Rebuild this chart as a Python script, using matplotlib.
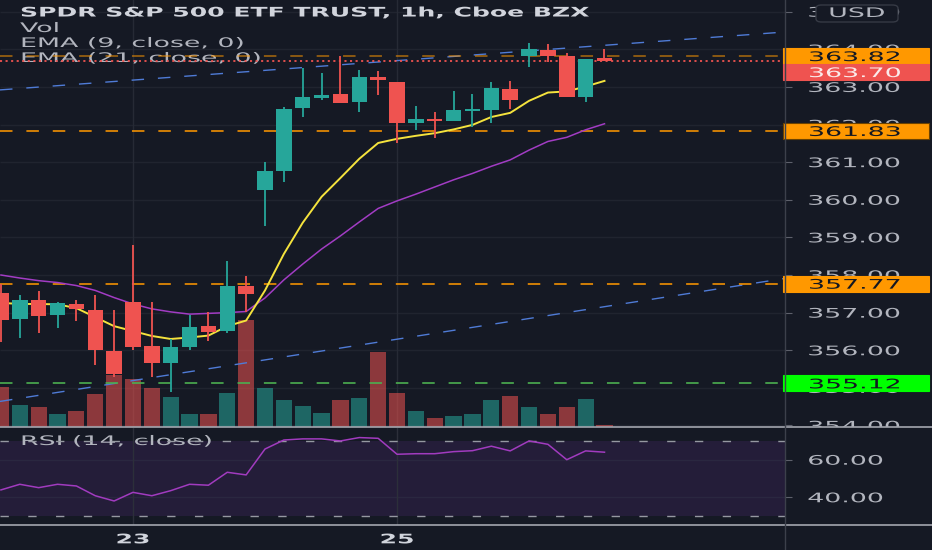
import matplotlib
matplotlib.use("Agg")
import matplotlib.pyplot as plt
import matplotlib.transforms as mtransforms
from matplotlib.patches import Rectangle, FancyBboxPatch
from matplotlib.lines import Line2D
from matplotlib.patheffects import AbstractPathEffect
import numpy as np

# SPY 1h bars, 20 Nov -> 27 Nov
opens = [357.51, 356.82, 357.34, 356.95, 357.23, 357.07, 355.99,
         357.29, 356.11, 355.67, 356.09, 356.64, 356.52, 357.72,
         360.26, 360.77, 362.43, 362.70, 362.81, 362.59, 363.26,
         363.14, 362.05, 362.12, 362.10, 362.37, 362.39, 362.94,
         363.83, 363.99, 363.82, 362.74, 363.78]
highs = [357.75, 357.48, 357.58, 357.27, 357.34, 357.46, 357.07,
         358.80, 357.29, 356.29, 356.94, 357.02, 358.38, 357.97,
         361.01, 362.46, 363.50, 363.38, 363.81, 363.45, 363.43,
         363.14, 362.49, 362.34, 362.90, 362.81, 363.14, 363.17,
         364.18, 364.14, 363.90, 363.74, 364.00]
lows = [356.22, 356.32, 356.47, 356.58, 356.78, 355.61, 355.30,
        356.02, 355.30, 354.90, 356.02, 356.25, 356.47, 357.02,
        359.30, 360.48, 362.19, 362.64, 362.57, 362.34, 362.78,
        361.50, 361.86, 361.64, 362.10, 361.94, 362.05, 362.41,
        363.52, 363.67, 362.72, 362.59, 363.69]
closes = [356.80, 357.34, 356.92, 357.26, 357.09, 356.01, 355.37,
          356.09, 355.67, 356.09, 356.63, 356.49, 357.72, 357.49,
          360.77, 362.41, 362.73, 362.79, 362.57, 363.26, 363.19,
          362.03, 362.14, 362.10, 362.39, 362.41, 362.96, 362.64,
          364.00, 363.81, 362.74, 363.74, 363.70]
volume = [8.0, 4.4, 4.0, 2.6, 3.2, 6.6, 10.4,
          9.6, 7.8, 6.0, 2.6, 2.6, 6.8, 21.4,
          7.8, 5.4, 4.2, 2.8, 5.4, 5.8, 15.0,
          6.8, 3.2, 1.8, 2.2, 2.6, 5.4, 6.2,
          4.0, 2.6, 4.0, 5.6, 0.4]
ema9 = [357.26, 357.23, 357.23, 357.22, 357.12, 356.88, 356.64,
        356.51, 356.38, 356.30, 356.34, 356.39, 356.64, 356.79,
        357.59, 358.56, 359.39, 360.08, 360.58, 361.09, 361.51,
        361.62, 361.70, 361.77, 361.87, 361.99, 362.20, 362.31,
        362.63, 362.85, 362.88, 363.01, 363.16]
ema21 = [358.00, 357.92, 357.85, 357.80, 357.72, 357.59, 357.40,
         357.23, 357.10, 357.02, 356.96, 356.98, 357.00, 357.03,
         357.39, 357.87, 358.29, 358.69, 359.04, 359.41, 359.77,
         359.97, 360.15, 360.34, 360.53, 360.70, 360.89, 361.06,
         361.32, 361.55, 361.66, 361.86, 362.02]
rsi = [43.9, 46.9, 45.1, 46.9, 46.0, 40.8, 38.0,
       42.6, 40.8, 43.5, 46.9, 46.4, 53.3, 51.9,
       65.7, 70.5, 71.1, 71.1, 70.0, 71.8, 71.4,
       62.9, 63.2, 63.2, 64.3, 64.8, 67.2, 64.7,
       70.0, 68.2, 60.0, 64.7, 64.0]

date_ticks = [7, 21]
date_labels = ["23", "25"]
price_ticks = list(range(354, 366))
rsi_ticks = [40, 60]

# drawn levels and trend lines
level_top = 363.82
level_mid = 361.83
level_low = 357.77
level_green = 355.12
last_price = 363.70
trend_upper = [(-0.05, 362.92), (41.57, 364.46)]
trend_lower = [(-0.05, 354.64), (41.57, 357.91)]

W, H = 932, 550
BG = '#151924'
TEAL = '#26a69a'
RED = '#ef5350'
ORANGE = '#ff9800'
TXT = '#b2b5be'
FS = 9.5
PRICE_LIM = (353.96, 365.31)
RSI_LIM = (25.2, 76.9)
XLIM = (-0.05, 41.57)

plt.rcParams['lines.scale_dashes'] = False
plt.rcParams['font.family'] = ['DejaVu Sans']


class Wide(AbstractPathEffect):
    """stretch glyphs sideways, the screenshot's font is very wide"""
    def __init__(self, sx=2.03, anchor='left'):
        super().__init__()
        self.sx = sx
        self.anchor = anchor

    def draw_path(self, renderer, gc, tpath, affine, rgbFace=None):
        cx = 0
        if self.anchor == 'center':
            ext = tpath.get_extents()
            cx = (ext.x0 + ext.x1) / 2
        st = mtransforms.Affine2D().translate(-cx, 0).scale(self.sx, 1).translate(cx, 0)
        renderer.draw_path(gc, tpath, st + affine, rgbFace)


WIDE = [Wide()]


def fx(px):
    return px / W


def fy(py):
    return 1 - py / H


fig = plt.figure(figsize=(W / 100, H / 100), dpi=100, facecolor=BG)

main_rect = [0, fy(427), fx(785), fy(0) - fy(427)]
rsi_rect = [0, fy(525), fx(785), fy(428) - fy(525)]
ax_vol = fig.add_axes(main_rect, zorder=0)
ax = fig.add_axes(main_rect, zorder=0.5)
ax_rsi = fig.add_axes(rsi_rect, zorder=2)
ax_vol.set_facecolor(BG)
ax.set_facecolor('none')
ax_rsi.set_facecolor(BG)
for a in (ax_vol, ax, ax_rsi):
    for s in a.spines.values():
        s.set_visible(False)
    a.set_xlim(*XLIM)

x = np.arange(len(closes))
up = np.array(closes) >= np.array(opens)
colors = np.where(up, TEAL, RED)

# volume underneath, grid lines under the volume bars
ax_vol.set_ylim(0, 85.4)
grid_tr = mtransforms.blended_transform_factory(ax_vol.transAxes, ax.transData)
ax_vol.hlines(price_ticks, 0, 1, transform=grid_tr, color='#20242f', lw=1, zorder=0.5)
for d in date_ticks:
    ax_vol.axvline(d, color='#262a35', lw=1, zorder=0.5)
ax_vol.bar(x, volume, width=0.86, color=colors, alpha=0.55, zorder=1)
ax_vol.set_xticks([])
ax_vol.set_yticks([])

# legend texts (under the drawn lines, as on the screenshot)
ax.text(fx(20), fy(13), 'SPDR S&P 500 ETF TRUST, 1h, Cboe BZX', transform=fig.transFigure,
        color='#d1d4dc', fontsize=FS, fontweight='bold', ha='left', va='center',
        zorder=1, path_effects=[Wide(1.9)])
ax.text(fx(20), fy(28.5), 'Vol', transform=fig.transFigure, color=TXT, fontsize=FS,
        ha='left', va='center', zorder=1, path_effects=WIDE)
ax.text(fx(20), fy(43.5), 'EMA (9, close, 0)', transform=fig.transFigure, color=TXT,
        fontsize=FS, ha='left', va='center', zorder=1, path_effects=WIDE)
ax.text(fx(20), fy(58.5), 'EMA (21, close, 0)', transform=fig.transFigure, color=TXT,
        fontsize=FS, ha='left', va='center', zorder=1, path_effects=WIDE)

# price pane
ax.set_ylim(*PRICE_LIM)
ax.axline(trend_upper[0], trend_upper[1], color='#4f7bd6', lw=1, ls=(0, (9, 10)), zorder=2)
ax.axline(trend_lower[0], trend_lower[1], color='#4f7bd6', lw=1, ls=(0, (9, 10)), zorder=2)
ax.axhline(level_top, color=ORANGE, alpha=0.5, lw=1.4, ls=(0, (9, 10)), zorder=2)
ax.axhline(level_mid, color=ORANGE, alpha=0.8, lw=1.4, ls=(0, (9, 10)), zorder=2)
ax.axhline(level_low, color=ORANGE, alpha=0.8, lw=1.4, ls=(0, (9, 10)), zorder=2)
ax.axhline(level_green, color='#4caf50', alpha=0.85, lw=1.4, ls=(0, (9, 10)), zorder=2)
ax.axhline(last_price, color=RED, lw=1.3, ls=(0, (1.5, 2.5)), zorder=2)

ax.plot(x, ema21, color='#a23cc4', lw=1.1, zorder=3)
ax.plot(x, ema9, color='#f5e33d', lw=1.4, zorder=3)

body_lo = np.minimum(opens, closes)
body_h = np.maximum(np.abs(np.subtract(closes, opens)), 0.035)
ax.vlines(x, lows, highs, colors=colors, lw=1.3, zorder=4)
ax.bar(x, body_h, bottom=body_lo, width=0.82, color=colors, zorder=5)

ax.set_xticks([])
ax.yaxis.tick_right()
ax.set_yticks(price_ticks)
for lab in ax.set_yticklabels([f'{p:.2f}' for p in price_ticks]):
    lab.set_path_effects(WIDE)
ax.tick_params(axis='y', direction='out', length=5, width=0.8, color='#5d606b',
               labelcolor=TXT, labelsize=FS, pad=11)

# price labels on the axis
lab_tr = mtransforms.blended_transform_factory(fig.transFigure, ax.transData)
box_h = (PRICE_LIM[1] - PRICE_LIM[0]) * 16 / 427


def price_box(yc, text, face, tcolor, edge=None):
    ax.add_patch(Rectangle((fx(783), yc - box_h / 2), fx(929) - fx(783), box_h,
                           transform=lab_tr, facecolor=face, edgecolor=edge or face,
                           lw=0.8, clip_on=False, zorder=8))
    ax.text(fx(808), yc, text, transform=lab_tr, color=tcolor, fontsize=FS,
            ha='left', va='center_baseline', clip_on=False, zorder=9, path_effects=WIDE)


price_box(level_top, f'{level_top:.2f}', ORANGE, '#131722')
price_box(level_top - box_h, f'{last_price:.2f}', RED, '#fbeaea')
price_box(level_mid, f'{level_mid:.2f}', ORANGE, '#131722', edge='#6b4200')
price_box(level_low, f'{level_low:.2f}', ORANGE, '#131722')
price_box(level_green, f'{level_green:.2f}', '#00ff00', '#131722')

# RSI pane
ax_rsi.set_ylim(*RSI_LIM)
ax_rsi.axhspan(30, 70, color='#8e3cc8', alpha=0.13, lw=0, zorder=0.5)
for g in rsi_ticks:
    ax_rsi.axhline(g, color='#2a2740', lw=1, zorder=0.6)
for d in date_ticks:
    ax_rsi.axvline(d, color='#2c2f3a', lw=1, zorder=0.6)
ax_rsi.text(fx(20), fy(441.5), 'RSI (14, close)', transform=fig.transFigure, color=TXT,
            fontsize=FS, ha='left', va='center', zorder=0.8, path_effects=WIDE)
ax_rsi.axhline(70, color='#9598a1', lw=1, ls=(0, (6, 14)), zorder=1)
ax_rsi.axhline(30, color='#9598a1', lw=1, ls=(0, (6, 14)), zorder=1)
ax_rsi.plot(x, rsi, color='#a13bbf', lw=1.1, zorder=2)
ax_rsi.yaxis.tick_right()
ax_rsi.set_yticks(rsi_ticks)
for lab in ax_rsi.set_yticklabels([f'{v:.2f}' for v in rsi_ticks]):
    lab.set_path_effects(WIDE)
ax_rsi.tick_params(axis='y', direction='out', length=5, width=0.8, color='#5d606b',
                   labelcolor=TXT, labelsize=FS, pad=11)
ax_rsi.set_xticks(date_ticks)
for lab in ax_rsi.set_xticklabels(date_labels, fontweight='bold'):
    lab.set_path_effects([Wide(1.9, 'center')])
ax_rsi.tick_params(axis='x', length=0, labelcolor='#d1d4dc', labelsize=FS, pad=6)

# hide the lower half of the 354.00 label like the pane split does
fig.patches.append(Rectangle((fx(785), 0), 1 - fx(785), fy(427), transform=fig.transFigure,
                             facecolor=BG, edgecolor='none', zorder=1))

# separators
for yy in (427, 525):
    fig.lines.append(Line2D([0, 1], [fy(yy), fy(yy)], transform=fig.transFigure,
                            color='#a3a6af', lw=1.2, zorder=4))
fig.lines.append(Line2D([fx(785), fx(785)], [0, 1], transform=fig.transFigure,
                        color='#3c404b', lw=1, zorder=4))

# USD button
fig.patches.append(FancyBboxPatch((fx(816), fy(22)), fx(898) - fx(816), fy(5) - fy(22),
                                  boxstyle='round,pad=0,rounding_size=0.006',
                                  transform=fig.transFigure, facecolor=BG,
                                  edgecolor='#363a45', lw=1, zorder=3))
fig.text(fx(857), fy(13.5), 'USD', color=TXT, fontsize=FS, ha='center', va='center',
         zorder=5, path_effects=[Wide(2.03, 'center')])

fig.savefig('out.png', dpi=100, facecolor=BG)
